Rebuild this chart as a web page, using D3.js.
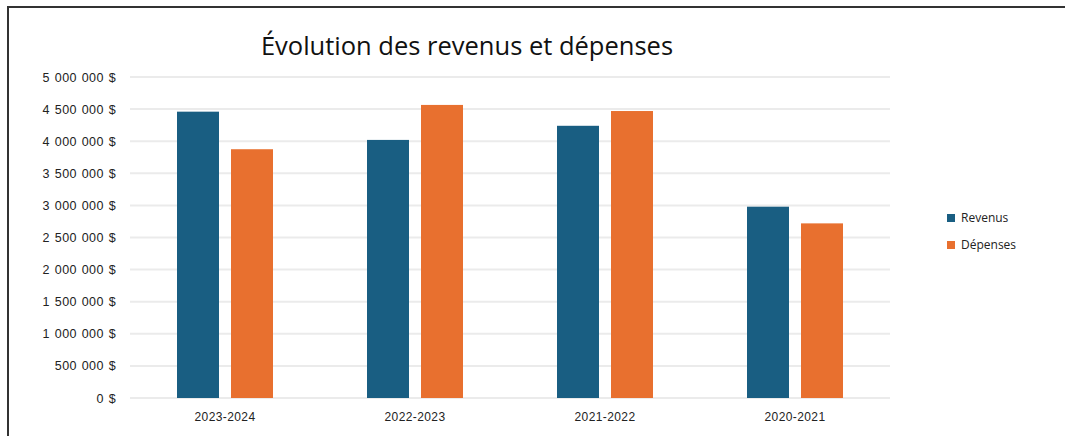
<!DOCTYPE html>
<html><head><meta charset="utf-8">
<script src="https://cdn.jsdelivr.net/npm/d3@7"></script>
<style>body{margin:0;background:#fff;}svg{display:block;font-family:"Open Sans","Noto Sans",sans-serif;}</style>
</head><body>
<svg id="c" width="1065" height="436"></svg>
<script>
const categories = ["2023-2024","2022-2023","2021-2022","2020-2021"];
const seriesNames = ["Revenus","Dépenses"];
const revenus = [4460000, 4020000, 4240000, 2980000];
const depenses = [3875000, 4565000, 4470000, 2720000];
const yTicks = [0,500000,1000000,1500000,2000000,2500000,3000000,3500000,4000000,4500000,5000000];
const colors = ["#195e82","#e8702f"];

const svg = d3.select("#c");
svg.append("rect").attr("x",8).attr("y",7).attr("width",1070).attr("height",440)
  .attr("fill","none").attr("stroke","#333").attr("stroke-width",2);

const x = d3.scaleBand().domain(categories).range([130,890]);
const y = d3.scaleLinear().domain([0,5000000]).range([398,77]);
const fmt = v => d3.format(",")(v).replace(/,/g," ") + " $";

// grid
svg.append("g").selectAll("line").data(yTicks).join("line")
  .attr("x1",130).attr("x2",890).attr("y1",d=>y(d)).attr("y2",d=>y(d))
  .attr("stroke","#ebebeb").attr("stroke-width",2);

const yAxis = svg.append("g").attr("transform","translate(130,0)")
  .call(d3.axisLeft(y).tickValues(yTicks).tickFormat(fmt).tickSize(0).tickPadding(14));
yAxis.select(".domain").remove();
yAxis.selectAll("text").attr("font-size",12.5).attr("fill","#222")
  .attr("letter-spacing","0.4px").attr("word-spacing","1px");

const xAxis = svg.append("g").attr("transform","translate(0,398)")
  .call(d3.axisBottom(x).tickSize(0).tickPadding(14));
xAxis.select(".domain").remove();
xAxis.selectAll("text").attr("font-size",12).attr("fill","#222").attr("letter-spacing","0.4px");

const bw = 42, gap = 12;
const data = [revenus, depenses];
data.forEach((vals,si)=>{
  svg.append("g").selectAll("rect").data(vals).join("rect")
    .attr("x",(d,i)=> x(categories[i]) + x.bandwidth()/2 - gap/2 - bw + si*(bw+gap))
    .attr("y",d=>y(d)).attr("width",bw).attr("height",d=>y(0)-y(d))
    .attr("fill",colors[si]);
});

svg.append("text").attr("x",467).attr("y",55).attr("text-anchor","middle")
  .attr("font-size",25.5).attr("fill","#111").text("Évolution des revenus et dépenses");

const lg = svg.append("g");
seriesNames.forEach((n,i)=>{
  lg.append("rect").attr("x",947).attr("y",214+i*27).attr("width",8).attr("height",8).attr("fill",colors[i]);
  lg.append("text").attr("x",961).attr("y",222+i*27).attr("font-size",12).attr("fill","#222").text(n);
});
</script>
</body></html>
